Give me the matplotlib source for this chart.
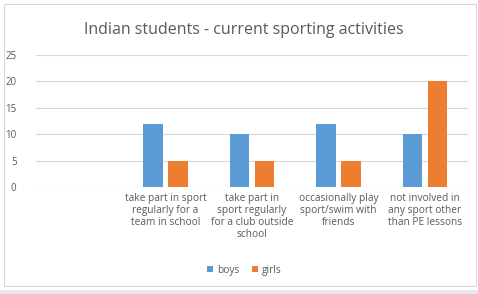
import matplotlib.pyplot as plt
import numpy as np

categories = ["",
              "take part in sport\nregularly for a\nteam in school",
              "take part in\nsport regularly\nfor a club outside\nschool",
              "occasionally play\nsport/swim with\nfriends",
              "not involved in\nany sport other\nthan PE lessons"]
boys = [0, 12, 10, 12, 10]
girls = [0, 5, 5, 5, 20]
yticks = [0, 5, 10, 15, 20, 25]

plt.rcParams['font.family'] = ['Open Sans', 'DejaVu Sans']
grey = '#595959'

fig = plt.figure(figsize=(4.78, 2.94), dpi=100)
ax = fig.add_axes([36 / 478, 1 - 187 / 294, 432 / 478, 132 / 294])

x = np.arange(len(categories))
w = 0.225
ax.bar(x - 0.145, boys, w, color='#5B9BD5', label='boys', zorder=3)
ax.bar(x + 0.145, girls, w, color='#ED7D31', label='girls', zorder=3)

ax.set_xlim(-0.5, len(categories) - 0.5)
ax.set_ylim(0, 25)
ax.set_yticks(yticks)
ax.grid(axis='y', color='#d9d9d9', linewidth=0.8, zorder=0)
for s in ax.spines.values():
    s.set_visible(False)
ax.axhline(0, color='#d9d9d9', linewidth=0.8, zorder=1)
ax.tick_params(length=0, labelsize=7, colors=grey, pad=4)
ax.tick_params(axis='y', pad=14)
ax.set_xticks(x)
ax.set_xticklabels(categories, fontsize=7.3, color=grey, linespacing=1.15, va='top')

fig.text(0.51, 1 - 30 / 294, "Indian students - current sporting activities",
         ha='center', va='center', fontsize=11.5, color=grey)

ax.legend(loc='center', bbox_to_anchor=(0.5 * 478 / 432 - 36 / 432 + 0.013, -0.63),
          ncol=2, frameon=False, fontsize=7.3, labelcolor=grey,
          handlelength=0.6, handleheight=0.6, handletextpad=0.4, columnspacing=1.2)

fig.patches.append(plt.Rectangle((4 / 478, 8 / 294), 472 / 478, 282 / 294,
                                 transform=fig.transFigure, fill=False,
                                 edgecolor='#d9d9d9', linewidth=0.8))
fig.patches.append(plt.Rectangle((0, 0), 1, 4 / 294, transform=fig.transFigure,
                                 facecolor='#e8e8e8', edgecolor='none'))

fig.savefig('out.png', dpi=100)
